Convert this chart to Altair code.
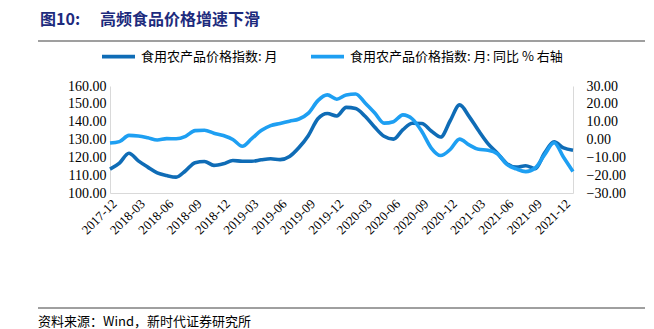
import altair as alt
import pandas as pd

months = [
    "2017-12", "2018-01", "2018-02", "2018-03", "2018-04", "2018-05", "2018-06",
    "2018-07", "2018-08", "2018-09", "2018-10", "2018-11", "2018-12",
    "2019-01", "2019-02", "2019-03", "2019-04", "2019-05", "2019-06",
    "2019-07", "2019-08", "2019-09", "2019-10", "2019-11", "2019-12",
    "2020-01", "2020-02", "2020-03", "2020-04", "2020-05", "2020-06",
    "2020-07", "2020-08", "2020-09", "2020-10", "2020-11", "2020-12",
    "2021-01", "2021-02", "2021-03", "2021-04", "2021-05", "2021-06",
    "2021-07", "2021-08", "2021-09", "2021-10", "2021-11", "2021-12",
    "2022-01",
]
price_index = [
    113.4, 116.8, 122.3, 118.0, 114.5, 111.3, 109.8,
    108.9, 112.5, 117.0, 117.7, 115.5, 116.4,
    118.2, 117.8, 117.8, 118.6, 119.2, 118.7,
    120.5, 125.5, 132.3, 141.6, 144.6, 143.2,
    148.0, 147.4, 143.0, 137.0, 131.8, 130.2,
    135.5, 139.1, 139.0, 134.8, 131.4, 140.5,
    149.4, 143.0, 135.0, 127.7, 122.3, 116.5,
    114.5, 115.3, 113.6, 122.5, 128.7, 125.3,
    124.0,
]
price_yoy = [
    -2.0, -1.2, 2.3, 2.0, 1.0, -0.3, 0.5,
    0.4, 1.8, 5.0, 5.2, 3.5, 2.2,
    0.0, -3.8, 0.5, 5.0, 7.8, 9.0,
    10.3, 11.5, 14.8, 21.8, 25.0, 22.6,
    25.0, 25.5, 20.5, 15.0, 9.2, 10.0,
    13.8, 11.5, 4.5, -4.8, -9.0, -5.6,
    0.2, -3.0, -5.5, -6.0, -8.0, -14.0,
    -16.5, -18.0, -16.0, -8.5, -1.8, -10.0,
    -18.0,
]
tick_labels = [
    "2017-12", "2018-03", "2018-06", "2018-09", "2018-12", "2019-03",
    "2019-06", "2019-09", "2019-12", "2020-03", "2020-06", "2020-09",
    "2020-12", "2021-03", "2021-06", "2021-09", "2021-12",
]
left_ticks = [100, 110, 120, 130, 140, 150, 160]
right_ticks = [-30, -20, -10, 0, 10, 20, 30]
series_names = ["食用农产品价格指数: 月", "食用农产品价格指数: 月: 同比 % 右轴"]
series_colors = ["#0f6cb6", "#1e9ff2"]
title_num = "图10:"
title_text = "高频食品价格增速下滑"
source_text = "资料来源：Wind，新时代证券研究所"

SERIF = "Liberation Serif"
CJK = "Noto Sans CJK SC"
NAVY = "#1d2b7d"

df = pd.DataFrame({"month": months, "index": price_index, "yoy": price_yoy})

color_scale = alt.Scale(domain=series_names, range=series_colors)

x_enc = alt.X(
    "month:O",
    sort=months,
    scale=alt.Scale(type="point", padding=0),
    axis=alt.Axis(
        values=tick_labels, labelAngle=-45, title=None, ticks=False,
        domainColor="#d9d9d9", domainWidth=1, labelFont=SERIF, labelFontSize=13,
        labelColor="#000000", labelPadding=4,
    ),
)

line_idx = (
    alt.Chart(df)
    .transform_calculate(series="'" + series_names[0] + "'")
    .mark_line(strokeWidth=3.6, interpolate="monotone")
    .encode(
        x=x_enc,
        y=alt.Y(
            "index:Q",
            scale=alt.Scale(domain=[100, 160], nice=False, zero=False),
            axis=alt.Axis(
                values=left_ticks, format=".2f", title=None, ticks=False, grid=False,
                domainColor="#d9d9d9", labelFont=SERIF, labelFontSize=14,
                labelColor="#000000", labelPadding=4, orient="left",
            ),
        ),
        color=alt.Color(
            "series:N",
            scale=color_scale,
            legend=alt.Legend(
                title=None, orient="none", legendX=-10, legendY=-48,
                direction="horizontal", symbolType="stroke", symbolSize=1089,
                symbolStrokeWidth=3.6, labelFont=CJK, labelFontSize=13,
                labelColor="#000000", columnPadding=25, labelOffset=4, labelLimit=400,
            ),
        ),
    )
)

line_yoy = (
    alt.Chart(df)
    .transform_calculate(series="'" + series_names[1] + "'")
    .mark_line(strokeWidth=3.6, interpolate="monotone")
    .encode(
        x=x_enc,
        y=alt.Y(
            "yoy:Q",
            scale=alt.Scale(domain=[-30, 30], nice=False, zero=False),
            axis=alt.Axis(
                values=right_ticks, format=".2f", title=None, ticks=False, grid=False,
                domainColor="#d9d9d9", labelFont=SERIF, labelFontSize=14,
                labelColor="#000000", labelPadding=13, orient="right",
            ),
        ),
        color=alt.Color("series:N", scale=color_scale),
    )
)

title_a = alt.Chart(pd.DataFrame({"t": [title_num]})).mark_text(
    font=CJK, fontSize=16, fontWeight="bold", color=NAVY, align="left", baseline="middle"
).encode(x=alt.value(-70), y=alt.value(-66), text="t:N")
title_b = alt.Chart(pd.DataFrame({"t": [title_text]})).mark_text(
    font=CJK, fontSize=16, fontWeight="bold", color=NAVY, align="left", baseline="middle"
).encode(x=alt.value(-10), y=alt.value(-66), text="t:N")
title_rule = alt.Chart(pd.DataFrame({"a": [0]})).mark_rule(
    color="#7f7f7f", strokeWidth=1.5
).encode(x=alt.value(-72), x2=alt.value(535), y=alt.value(-45))
source_rule = alt.Chart(pd.DataFrame({"a": [0]})).mark_rule(
    color="#404040", strokeWidth=1
).encode(x=alt.value(-72), x2=alt.value(535), y=alt.value(222))
source = alt.Chart(pd.DataFrame({"t": [source_text]})).mark_text(
    font=CJK, fontSize=13, color="#000000", align="left", baseline="middle"
).encode(x=alt.value(-72), y=alt.value(236), text="t:N")

chart = (
    alt.layer(line_idx, line_yoy, title_a, title_b, title_rule, source_rule, source)
    .resolve_scale(y="independent")
    .properties(
        width=463,
        height=107,
        autosize=alt.AutoSizeParams(type="none"),
        padding={"left": 110, "top": 86, "right": 81, "bottom": 136},
        background="#ffffff",
    )
    .configure_view(strokeWidth=0)
)

chart.save("out.html", embed_options={"renderer": "svg", "actions": False})
